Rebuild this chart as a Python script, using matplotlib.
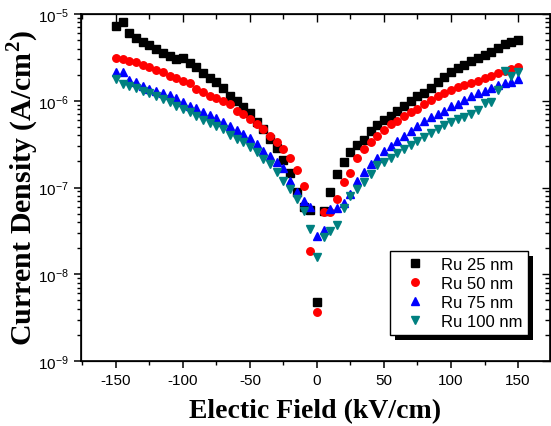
import matplotlib
matplotlib.use('Agg')
import matplotlib.pyplot as plt
from matplotlib.patches import Rectangle
from matplotlib.ticker import MultipleLocator, LogLocator, NullFormatter

plt.rcParams['font.family'] = ['Liberation Sans', 'DejaVu Sans']
plt.rcParams['mathtext.fontset'] = 'custom'
plt.rcParams['mathtext.bf'] = 'Liberation Serif:bold'
plt.rcParams['mathtext.rm'] = 'Liberation Sans'
plt.rcParams['axes.unicode_minus'] = False

# Campo eléctrico (kV/cm), pasos de 5
campo = list(range(-150, 155, 5))

# Densidad de corriente (A/cm^2)
ru25 = [7.27e-6, 8.09e-6, 6.04e-6, 5.29e-6, 4.76e-6, 4.40e-6, 3.95e-6, 3.55e-6, 3.28e-6, 3.03e-6,
        3.10e-6, 2.72e-6, 2.45e-6, 2.09e-6, 1.83e-6, 1.64e-6, 1.40e-6, 1.13e-6, 9.93e-7, 8.47e-7,
        7.22e-7, 5.69e-7, 4.72e-7, 3.62e-7, 2.85e-7, 2.07e-7, 1.47e-7, 8.87e-8, 5.96e-8, 5.50e-8,
        4.79e-9,
        5.36e-8, 8.87e-8, 1.43e-7, 1.97e-7, 2.56e-7, 3.09e-7, 3.53e-7, 4.48e-7, 5.25e-7, 6.00e-7,
        6.67e-7, 7.62e-7, 8.70e-7, 9.93e-7, 1.13e-6, 1.23e-6, 1.40e-6, 1.64e-6, 1.88e-6, 2.14e-6,
        2.39e-6, 2.58e-6, 2.87e-6, 3.11e-6, 3.37e-6, 3.65e-6, 4.06e-6, 4.51e-6, 4.76e-6, 5.01e-6]
ru50 = [3.11e-6, 3.03e-6, 2.90e-6, 2.77e-6, 2.60e-6, 2.47e-6, 2.26e-6, 2.13e-6, 1.95e-6, 1.82e-6,
        1.70e-6, 1.60e-6, 1.37e-6, 1.25e-6, 1.14e-6, 1.08e-6, 1.00e-6, 9.18e-7, 7.68e-7, 7.03e-7,
        6.16e-7, 5.40e-7, 4.72e-7, 3.95e-7, 3.32e-7, 2.78e-7, 2.19e-7, 1.60e-7, 1.05e-7, 1.87e-8,
        3.67e-9,
        5.22e-8, 5.26e-8, 7.37e-8, 1.17e-7, 1.46e-7, 2.21e-7, 2.78e-7, 3.32e-7, 3.95e-7, 4.64e-7,
        5.40e-7, 5.89e-7, 6.62e-7, 7.48e-7, 8.04e-7, 9.18e-7, 1.02e-6, 1.14e-6, 1.23e-6, 1.34e-6,
        1.43e-6, 1.52e-6, 1.60e-6, 1.70e-6, 1.82e-6, 1.95e-6, 2.09e-6, 2.22e-6, 2.32e-6, 2.47e-6]
ru75 = [2.14e-6, 2.14e-6, 1.73e-6, 1.64e-6, 1.48e-6, 1.37e-6, 1.30e-6, 1.23e-6, 1.17e-6, 1.08e-6,
        9.68e-7, 8.70e-7, 8.25e-7, 7.42e-7, 6.85e-7, 6.32e-7, 5.69e-7, 5.12e-7, 4.60e-7, 4.14e-7,
        3.72e-7, 3.17e-7, 2.63e-7, 2.31e-7, 1.97e-7, 1.68e-7, 1.19e-7, 8.87e-8, 6.98e-8, 5.96e-8,
        2.76e-8,
        3.24e-8, 5.65e-8, 5.80e-8, 6.62e-8, 8.41e-8, 1.20e-7, 1.52e-7, 1.87e-7, 2.17e-7, 2.65e-7,
        3.03e-7, 3.46e-7, 3.95e-7, 4.52e-7, 5.16e-7, 5.89e-7, 6.44e-7, 7.03e-7, 7.68e-7, 8.63e-7,
        9.18e-7, 1.02e-6, 1.12e-6, 1.23e-6, 1.31e-6, 1.39e-6, 1.52e-6, 1.60e-6, 1.66e-6, 1.78e-6]
ru100 = [1.78e-6, 1.56e-6, 1.47e-6, 1.39e-6, 1.31e-6, 1.23e-6, 1.14e-6, 1.05e-6, 9.59e-7, 8.77e-7,
         8.04e-7, 7.36e-7, 6.73e-7, 6.05e-7, 5.55e-7, 5.07e-7, 4.72e-7, 4.03e-7, 3.62e-7, 3.32e-7,
         2.91e-7, 2.55e-7, 2.13e-7, 1.87e-7, 1.50e-7, 1.20e-7, 9.62e-8, 7.37e-8, 5.41e-8, 3.28e-8,
         1.57e-8,
         2.67e-8, 3.18e-8, 3.72e-8, 5.75e-8, 8.04e-8, 9.62e-8, 1.17e-7, 1.43e-7, 1.82e-7, 1.95e-7,
         2.17e-7, 2.50e-7, 2.78e-7, 3.09e-7, 3.46e-7, 3.87e-7, 4.25e-7, 4.72e-7, 5.25e-7, 5.65e-7,
         6.16e-7, 6.44e-7, 7.03e-7, 7.88e-7, 9.42e-7, 9.68e-7, 1.34e-6, 2.22e-6, 1.95e-6, 2.16e-6]

etiquetas = ['Ru 25 nm', 'Ru 50 nm', 'Ru 75 nm', 'Ru 100 nm']

fig = plt.figure(figsize=(5.51, 4.27), dpi=100)
ax = fig.add_axes([81 / 551, 65 / 427, 468.5 / 551, 347 / 427])

ax.plot(campo, ru25, 's', color='black', ms=5.2, label=etiquetas[0])
ax.plot(campo, ru50, 'o', color='red', ms=5.4, label=etiquetas[1])
ax.plot(campo, ru75, '^', color='blue', ms=6.0, label=etiquetas[2])
ax.plot(campo, ru100, 'v', color='#008080', ms=6.0, label=etiquetas[3])

ax.set_yscale('log')
ax.set_ylim(1e-9, 1e-5)
ax.set_xlim(-176.1, 173.5)
ax.xaxis.set_major_locator(MultipleLocator(50))
ax.xaxis.set_minor_locator(MultipleLocator(25))
ax.yaxis.set_major_locator(LogLocator(base=10, numticks=10))
ax.yaxis.set_minor_locator(LogLocator(base=10, subs=range(2, 10), numticks=10))
ax.yaxis.set_minor_formatter(NullFormatter())
ax.tick_params(which='major', direction='out', length=5, width=1.1, labelsize=11)
ax.tick_params(which='minor', direction='out', length=3, width=1.0)

for s in ax.spines.values():
    s.set_linewidth(1.2)

# ejes espejo con marcas hacia dentro
axr = ax.twinx()
axr.set_yscale('log')
axr.set_ylim(1e-9, 1e-5)
axr.yaxis.set_major_locator(LogLocator(base=10, numticks=10))
axr.yaxis.set_minor_locator(LogLocator(base=10, subs=range(2, 10), numticks=10))
axr.tick_params(which='both', direction='in', labelright=False, width=1.0)
axr.tick_params(which='major', length=6)
axr.tick_params(which='minor', length=3.5)

axt = ax.twiny()
axt.set_xlim(-176.1, 173.5)
axt.xaxis.set_major_locator(MultipleLocator(50))
axt.xaxis.set_minor_locator(MultipleLocator(25))
axt.tick_params(which='both', direction='in', labeltop=False, width=1.0)
axt.tick_params(which='major', length=6)
axt.tick_params(which='minor', length=3.5)

ax.set_xlabel('Electic Field (kV/cm)', family='Liberation Serif', weight='bold', fontsize=20, labelpad=8)
ax.set_ylabel(r'Current Density (A/cm$^{\mathbf{2}}$)', family='Liberation Serif', weight='bold',
              fontsize=21.5, labelpad=-2)

handles, labels = ax.get_legend_handles_labels()
leg = axt.legend(handles, labels, loc='lower right', bbox_to_anchor=(0.954, 0.075), borderaxespad=0,
                 fancybox=False, edgecolor='black', framealpha=1, fontsize=12,
                 handletextpad=0.4, labelspacing=0.25, borderpad=0.35, handlelength=2.3)
leg.get_frame().set_linewidth(1.0)
leg.set_zorder(10)

# sombra negra de la leyenda
fig.canvas.draw()
bb = leg.get_window_extent().transformed(fig.transFigure.inverted())
sombra = Rectangle((bb.x0 + 5 / 551, bb.y0 - 5 / 427), bb.width, bb.height,
                   transform=fig.transFigure, facecolor='black', edgecolor='none', zorder=9, clip_on=False)
axt.add_patch(sombra)

fig.savefig('out.png', dpi=100)
